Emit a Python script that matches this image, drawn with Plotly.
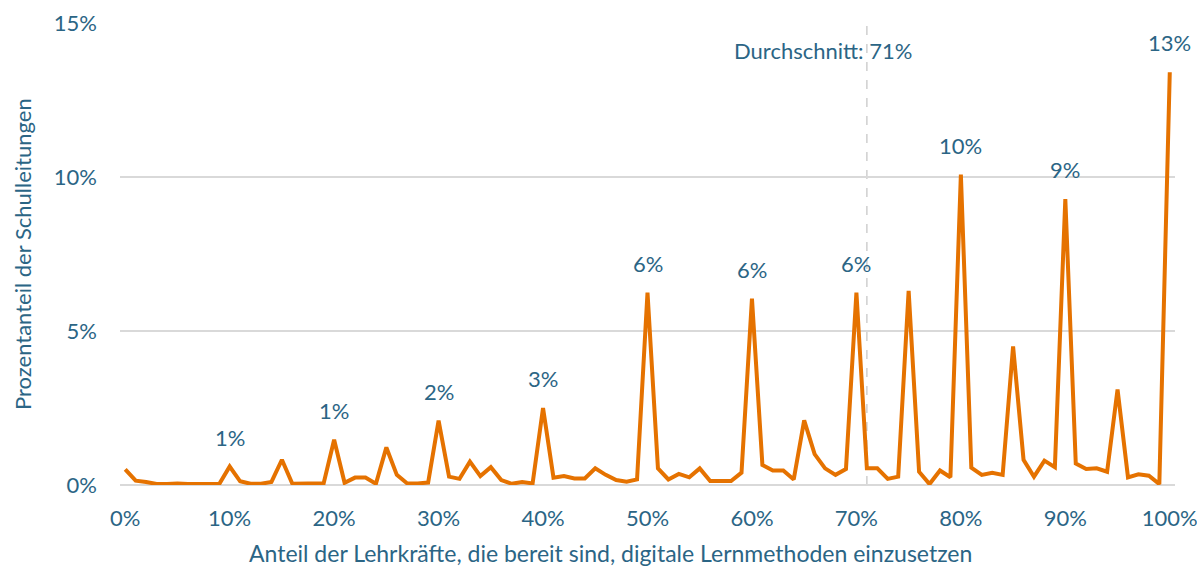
# Line chart: share of school leaders by share of teachers ready for digital learning

import plotly.graph_objects as go

# Anteil der Lehrkräfte (0..100 %)
anteil = list(range(0, 101))

# Prozentanteil der Schulleitungen je Anteil
schulleitungen = [
    0.51, 0.14, 0.10, 0.03, 0.03, 0.05, 0.03, 0.03, 0.03, 0.03,
    0.60, 0.12, 0.04, 0.04, 0.10, 0.82, 0.04, 0.04, 0.05, 0.06,
    1.47, 0.07, 0.24, 0.24, 0.04, 1.22, 0.33, 0.05, 0.05, 0.08,
    2.09, 0.27, 0.20, 0.76, 0.29, 0.58, 0.16, 0.04, 0.10, 0.05,
    2.50, 0.24, 0.29, 0.21, 0.21, 0.54, 0.33, 0.16, 0.11, 0.18,
    6.25, 0.54, 0.18, 0.36, 0.25, 0.54, 0.13, 0.13, 0.13, 0.40,
    6.05, 0.65, 0.47, 0.47, 0.18, 2.10, 1.00, 0.54, 0.33, 0.52,
    6.25, 0.54, 0.54, 0.20, 0.27, 6.30, 0.43, 0.03, 0.47, 0.25,
    10.08, 0.56, 0.33, 0.40, 0.33, 4.50, 0.82, 0.27, 0.79, 0.58,
    9.28, 0.70, 0.52, 0.54, 0.43, 3.10, 0.25, 0.35, 0.30, 0.03,
    13.40,
]

# Beschriftete Spitzen
label_x = [10, 20, 30, 40, 50, 60, 70, 80, 90, 100]
label_text = ["1%", "1%", "2%", "3%", "6%", "6%", "6%", "10%", "9%", "13%"]

durchschnitt = 71

x_ticks = [0, 10, 20, 30, 40, 50, 60, 70, 80, 90, 100]
x_ticktext = ["0%", "10%", "20%", "30%", "40%", "50%", "60%", "70%", "80%", "90%", "100%"]
y_ticks = [0, 5, 10, 15]
y_ticktext = ["0%", "5%", "10%", "15%"]

text_color = '#2b6585'
line_color = '#e57200'
grid_color = '#d9d9d9'
font_family = 'Lato, sans-serif'
fsize = 22

fig = go.Figure()

fig.add_trace(
    go.Scatter(
        x=anteil,
        y=schulleitungen,
        mode='lines',
        line=dict(color=line_color, width=4),
        hoverinfo='x+y',
        showlegend=False
    )
)

# Average marker line
fig.add_shape(
    type='line',
    x0=durchschnitt, x1=durchschnitt,
    xref='x', yref='paper',
    y0=0, y1=1,
    line=dict(color='#cfcfcf', width=1.5, dash='dash'),
    layer='below'
)

annotations = []
for lx, lt in zip(label_x, label_text):
    annotations.append(dict(
        x=lx, y=schulleitungen[lx],
        text=lt, showarrow=False,
        yanchor='bottom', yshift=14,
        font=dict(size=fsize, color=text_color, family=font_family)
    ))

annotations.append(dict(
    x=durchschnitt, y=14.1,
    text=f"Durchschnitt: {durchschnitt}%", showarrow=False,
    xanchor='center', yanchor='middle', xshift=-44,
    font=dict(size=fsize, color=text_color, family=font_family)
))

# Axis titles
annotations.append(dict(
    xref='paper', yref='paper',
    x=0.4645, y=-0.147,
    text="Anteil der Lehrkräfte, die bereit sind, digitale Lernmethoden einzusetzen",
    showarrow=False, xanchor='center', yanchor='middle',
    font=dict(size=23, color=text_color, family=font_family)
))
annotations.append(dict(
    xref='paper', yref='paper',
    x=-0.0929, y=0.5,
    text="Prozentanteil der Schulleitungen",
    textangle=-90,
    showarrow=False, xanchor='center', yanchor='middle',
    font=dict(size=fsize, color=text_color, family=font_family)
))

fig.update_layout(
    width=1197,
    height=570,
    plot_bgcolor='white',
    paper_bgcolor='white',
    font=dict(family=font_family, size=fsize, color=text_color),
    margin=dict(l=120, r=22, t=23, b=85),
    annotations=annotations,
    xaxis=dict(
        range=[-0.5, 100.5],
        tickvals=x_ticks,
        ticktext=x_ticktext,
        showgrid=False,
        zeroline=False,
        showline=False,
        ticks='',
        ticklabelstandoff=18,
        ticklabeloverflow='allow',
        automargin=False,
        tickfont=dict(size=fsize, color=text_color)
    ),
    yaxis=dict(
        range=[0, 15],
        tickvals=y_ticks,
        ticktext=y_ticktext,
        showgrid=True,
        gridcolor=grid_color,
        gridwidth=2,
        zeroline=True,
        zerolinecolor=grid_color,
        zerolinewidth=2,
        showline=False,
        ticks='',
        ticklabelstandoff=22,
        automargin=False,
        tickfont=dict(size=fsize, color=text_color)
    )
)

# drop the default body margin so the figure fills the window exactly
fig.write_html(
    "out.html",
    config={'displayModeBar': False},
    post_script="document.body.style.margin='0'; document.body.style.overflow='hidden';"
)
